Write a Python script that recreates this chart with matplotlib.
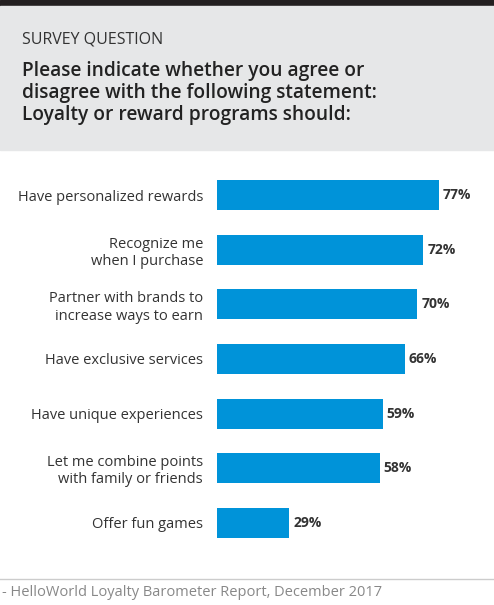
import matplotlib
matplotlib.use("Agg")
import matplotlib.pyplot as plt
from matplotlib.patches import Rectangle

categories = ["Have personalized rewards", "Recognize me\nwhen I purchase",
              "Partner with brands to\nincrease ways to earn", "Have exclusive services",
              "Have unique experiences", "Let me combine points\nwith family or friends",
              "Offer fun games"]
values = [77, 72, 70, 66, 59, 58, 29]

W, H = 494, 605
fig = plt.figure(figsize=(W/100, H/100), dpi=100)
fig.patch.set_facecolor("white")

def fx(p): return p / W
def fy(p): return 1 - p / H

fig.patches.append(Rectangle((0, fy(6)), 1, 6/H, transform=fig.transFigure, color="#231f20", zorder=0))
fig.patches.append(Rectangle((0, fy(150)), 1, 144/H, transform=fig.transFigure, color="#e6e7e8", zorder=0))
fig.text(fx(22), fy(40), "SURVEY QUESTION", fontsize=11.5, color="#333333", family="Open Sans", va="center")
fig.text(fx(22), fy(93), "Please indicate whether you agree or\ndisagree with the following statement:\nLoyalty or reward programs should:",
         fontsize=13.8, color="#222222", family="Open Sans", fontweight="semibold", va="center", linespacing=1.15)

x0 = 217
ax = fig.add_axes([fx(x0), fy(550), 1 - fx(x0), (550-168)/H])
ax.barh(range(len(values)), values, height=0.55, color="#0093d9")
ax.set_ylim(len(values)-0.5, -0.5)
ax.set_xlim(5.95, 94.6)
for i, v in enumerate(values):
    ax.text(v + 1.3, i, f"{v}%", va="center", ha="left", fontsize=10, fontweight="bold", color="#333333", family="Open Sans")
ax.set_yticks(range(len(values)))
ax.set_yticklabels(categories, fontsize=10.5, color="#333333", family="Open Sans", ha="right", multialignment="right")
ax.tick_params(axis="y", length=0, pad=10)
ax.set_xticks([])
for s in ax.spines.values():
    s.set_visible(False)

fig.add_artist(plt.Line2D([0, 1], [fy(579), fy(579)], transform=fig.transFigure, color="#cccccc", lw=1))
fig.text(fx(2), fy(593), "- HelloWorld Loyalty Barometer Report, December 2017", fontsize=10.5,
         color="#888888", family="Open Sans", va="center")

fig.savefig("out.png", dpi=100)
